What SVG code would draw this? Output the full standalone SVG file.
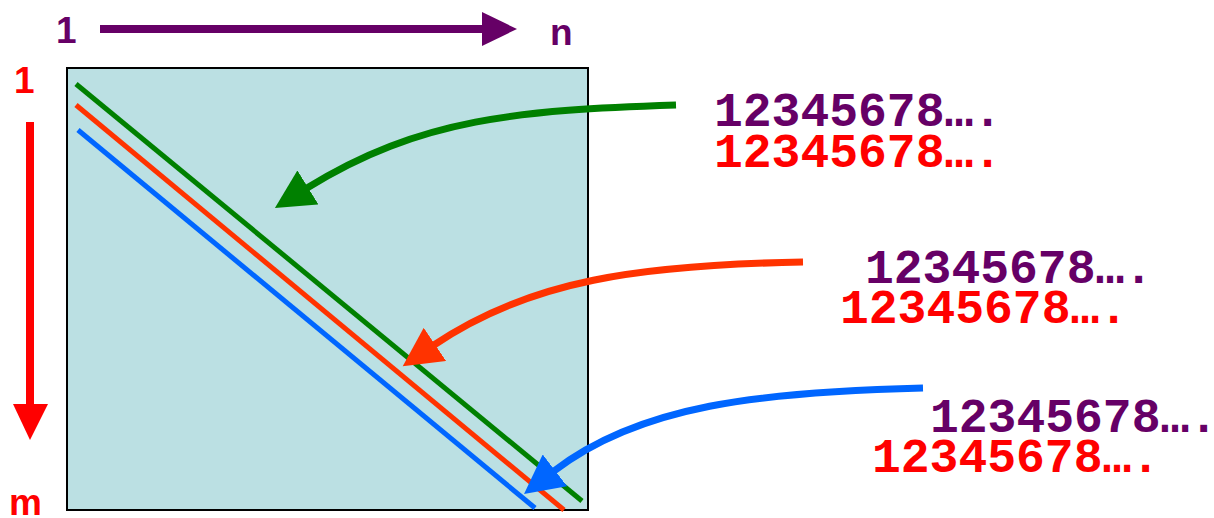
<svg xmlns="http://www.w3.org/2000/svg" width="1214" height="518" viewBox="0 0 1214 518">
<style>
.lbl{font-family:"Liberation Sans",Arial,sans-serif;font-weight:bold;font-size:37px}
.seq{font-family:"Liberation Mono","Courier New",monospace;font-weight:bold;font-size:48px}
.pur{fill:#660066}
.red{fill:#FF0000}
.diag{fill:none;stroke-width:5}
.curve{fill:none;stroke-width:7}
</style>
<defs>
<marker id="hg" markerUnits="userSpaceOnUse" markerWidth="40" markerHeight="40" refX="1" refY="18" orient="auto" viewBox="0 0 36 36"><path d="M0,0 L35,18 L0,36 Z" fill="#008000"/></marker>
<marker id="ho" markerUnits="userSpaceOnUse" markerWidth="40" markerHeight="40" refX="1" refY="18" orient="auto" viewBox="0 0 36 36"><path d="M0,0 L35,18 L0,36 Z" fill="#FF3300"/></marker>
<marker id="hb" markerUnits="userSpaceOnUse" markerWidth="40" markerHeight="40" refX="1" refY="18" orient="auto" viewBox="0 0 36 36"><path d="M0,0 L35,18 L0,36 Z" fill="#0066FF"/></marker>
</defs>
<g id="matrix">
<rect x="67" y="68" width="521" height="442" fill="#BBE0E3" stroke="#000" stroke-width="2"/>
<line class="diag" x1="76" y1="84" x2="582" y2="501" stroke="#008000"/>
<line class="diag" x1="76" y1="105" x2="564" y2="510" stroke="#FF3300"/>
<line class="diag" x1="78" y1="130" x2="535" y2="508" stroke="#0066FF"/>
</g>
<g id="col-axis">
<text class="lbl pur" x="56" y="43">1</text>
<line x1="100" y1="29" x2="484" y2="29" stroke="#660066" stroke-width="8"/>
<polygon points="482,12 517,29 482,46" fill="#660066"/>
<text class="lbl pur" x="550" y="45">n</text>
</g>
<g id="row-axis">
<text class="lbl red" x="14" y="93">1</text>
<line x1="30" y1="122" x2="30" y2="406" stroke="#FF0000" stroke-width="8"/>
<polygon points="13,404 48,404 30,440" fill="#FF0000"/>
<text class="lbl red" x="9" y="515">m</text>
</g>
<g id="seq1">
<text class="seq pur" x="714" y="126">12345678….</text>
<text class="seq red" x="714" y="167">12345678….</text>
</g>
<g id="seq2">
<text class="seq pur" x="865" y="283">12345678….</text>
<text class="seq red" x="840" y="323">12345678….</text>
</g>
<g id="seq3">
<text class="seq pur" x="930" y="432">12345678….</text>
<text class="seq red" x="872" y="472">12345678….</text>
</g>
<g id="connectors">
<path class="curve" d="M676,105 C520,110 420,118 307,188" stroke="#008000" marker-end="url(#hg)"/>
<path class="curve" d="M803,262 C640,265 530,280 434,345" stroke="#FF3300" marker-end="url(#ho)"/>
<path class="curve" d="M923,388 C760,392 640,405 554,471" stroke="#0066FF" marker-end="url(#hb)"/>
</g>
</svg>
